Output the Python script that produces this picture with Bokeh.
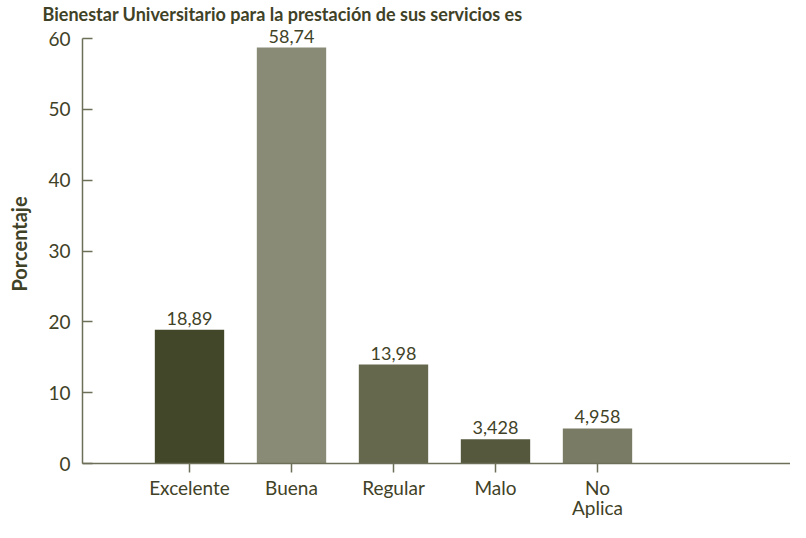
from bokeh.plotting import figure
from bokeh.models import ColumnDataSource, FixedTicker, Range1d
from bokeh.core.properties import value
from bokeh.embed import file_html
from bokeh.resources import INLINE

# ---- data ----
categories = ["Excelente", "Buena", "Regular", "Malo", "No\nAplica"]
values = [18.89, 58.74, 13.98, 3.428, 4.958]
value_labels = ["18,89", "58,74", "13,98", "3,428", "4,958"]
colors = ["#434729", "#8a8b76", "#66684d", "#55583c", "#7a7b64"]
y_ticks = [0, 10, 20, 30, 40, 50, 60]
title_text = "Bienestar Universitario para la prestación de sus servicios es"
y_label = "Porcentaje"

FONT = "Lato"
TEXT = "#3f4227"
AXIS = "#6e6f58"

xs = list(range(len(categories)))
src = ColumnDataSource(dict(x=xs, top=values, color=colors, lbl=value_labels))

W, H = 790, 522
left, right = 82, 0
frame_w = W - left - right
step = 102.0
x0 = -107.0 / step
x1 = x0 + frame_w / step

p = figure(width=W, height=H, output_backend="svg", toolbar_location=None,
           x_range=Range1d(x0, x1), y_range=Range1d(0, 62.0),
           min_border_left=left, min_border_right=right,
           min_border_top=0, min_border_bottom=40)

p.title.text = title_text
p.title.text_font = FONT
p.title.text_font_size = "18px"
p.title.text_font_style = "bold"
p.title.text_color = TEXT
p.title.align = "left"
p.title.offset = -40
p.title.standoff = 0

p.vbar(x="x", top="top", bottom=0, width=0.68, color="color", line_color=None, source=src)
p.text(x="x", y="top", text="lbl", source=src, text_align="center",
       text_baseline="bottom", y_offset=-5, text_font=value(FONT),
       text_font_size="18px", text_color=TEXT)

p.grid.visible = False
p.outline_line_color = None
p.background_fill_color = "white"
p.border_fill_color = "white"

ya = p.yaxis[0]
ya.ticker = FixedTicker(ticks=y_ticks)
ya.bounds = (0, 60)
ya.axis_label = y_label
ya.axis_label_text_font = FONT
ya.axis_label_text_font_style = "bold"
ya.axis_label_text_font_size = "20px"
ya.axis_label_text_color = TEXT
ya.axis_label_standoff = 14
ya.major_label_text_font = FONT
ya.major_label_text_font_size = "19px"
ya.major_label_text_color = TEXT
ya.major_label_standoff = 12
ya.major_tick_in = 10
ya.major_tick_out = 0
ya.minor_tick_in = 0
ya.minor_tick_out = 0
ya.axis_line_color = AXIS
ya.major_tick_line_color = AXIS
ya.axis_line_width = 1.5
ya.major_tick_line_width = 1.5

xa = p.xaxis[0]
xa.ticker = FixedTicker(ticks=xs)
xa.major_label_overrides = {i: c for i, c in zip(xs, categories)}
xa.major_label_text_font = FONT
xa.major_label_text_font_size = "19px"
xa.major_label_text_color = TEXT
xa.major_label_text_line_height = 0.9
xa.major_label_standoff = 3
xa.major_tick_in = 0
xa.major_tick_out = 9
xa.minor_tick_in = 0
xa.minor_tick_out = 0
xa.axis_line_color = AXIS
xa.major_tick_line_color = AXIS
xa.axis_line_width = 1.5
xa.major_tick_line_width = 1.5

open("out.html", "w").write(file_html(p, INLINE))
